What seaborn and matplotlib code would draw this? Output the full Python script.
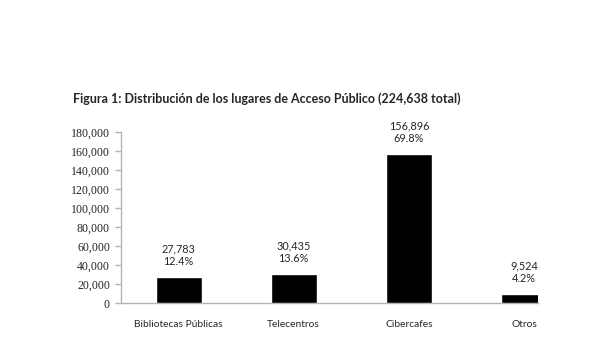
import matplotlib
matplotlib.use("Agg")
import matplotlib.pyplot as plt
import matplotlib.ticker as mticker
import seaborn as sns
import pandas as pd

# Public access venues and their counts
categories = ["Bibliotecas Públicas", "Telecentros", "Cibercafes", "Otros"]
counts = [27783, 30435, 156896, 9524]
shares = ["12.4%", "13.6%", "69.8%", "4.2%"]
total = 224638

sns.set_style("white")
plt.rcParams["font.family"] = ["Lato", "DejaVu Sans"]

df = pd.DataFrame({"lugar": categories, "cantidad": counts})

fig = plt.figure(figsize=(6.0, 3.4), dpi=100)
ax = fig.add_axes([121 / 600, 37 / 340, 417 / 600, 171 / 340])

sns.barplot(data=df, x="lugar", y="cantidad", color="black", width=0.4,
            saturation=1, ax=ax, zorder=3)

ax.set_xlim(-0.5, 3.12)
ax.set_ylim(0, 180000)
ax.yaxis.set_major_locator(mticker.MultipleLocator(20000))
ax.yaxis.set_major_formatter(mticker.FuncFormatter(lambda v, p: f"{int(v):,}"))

ax.set_xlabel("")
ax.set_ylabel("")

for s in ("top", "right"):
    ax.spines[s].set_visible(False)
for s in ("left", "bottom"):
    ax.spines[s].set_color("#b3b3b3")
    ax.spines[s].set_linewidth(1.0)

ax.tick_params(axis="y", which="major", left=True, length=4, width=1,
               color="#b3b3b3", pad=4)
ax.tick_params(axis="x", bottom=False, pad=9)
for lbl in ax.get_yticklabels():
    lbl.set_fontfamily(["Liberation Serif", "DejaVu Serif"])
    lbl.set_fontsize(8.6)
for lbl in ax.get_xticklabels():
    lbl.set_fontsize(7.4)

# Value and share above each bar
for i, (c, s) in enumerate(zip(counts, shares)):
    ax.annotate(f"{c:,}\n{s}", xy=(i, c), xytext=(0, 7),
                textcoords="offset points", ha="center", va="bottom",
                fontsize=7.8, linespacing=1.2, annotation_clip=False)

fig.text(73 / 600, 1 - 99 / 340,
         f"Figura 1: Distribución de los lugares de Acceso Público ({total:,} total)",
         ha="left", va="center", fontsize=9, fontweight="bold")

fig.savefig("out.png", dpi=100, facecolor="white")
